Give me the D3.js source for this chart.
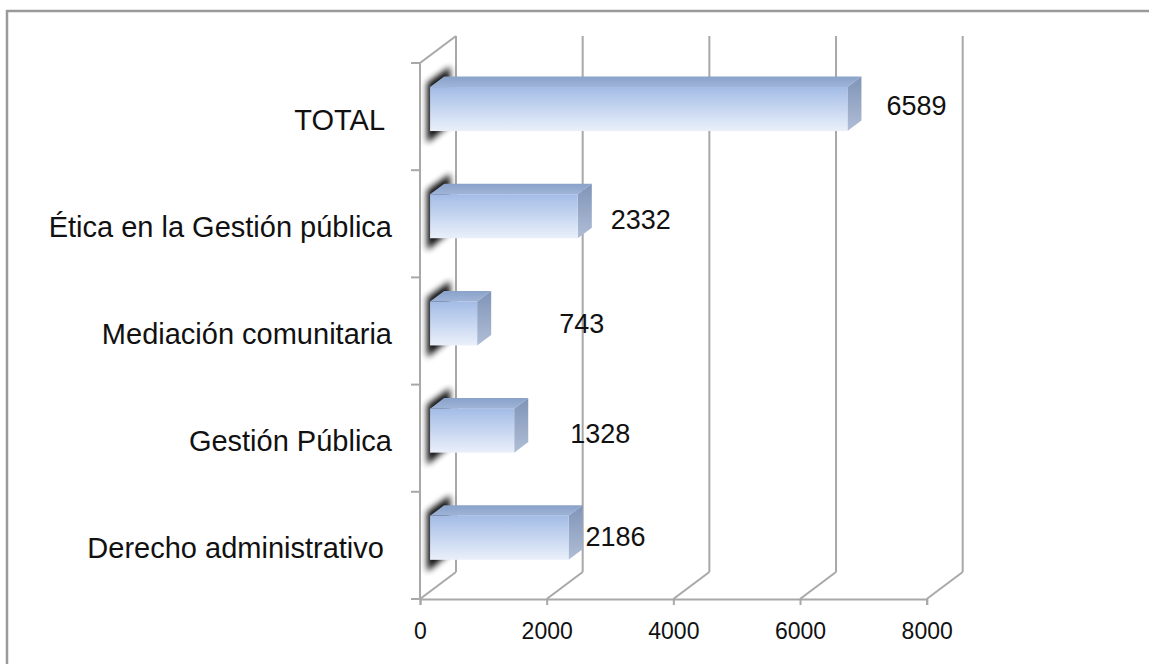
<!DOCTYPE html>
<html><head><meta charset="utf-8">
<script src="https://cdn.jsdelivr.net/npm/d3@7"></script>
<style>body{margin:0;background:#fff} text{font-family:"Liberation Sans",Arial,sans-serif;white-space:pre}</style>
</head><body><svg id="c" width="1149" height="664"></svg>
<script>
// ---- data ----
const categories = ["TOTAL ", "Ética en la Gestión pública", "Mediación comunitaria", "Gestión Pública", "Derecho administrativo "];
const values = [6589, 2332, 743, 1328, 2186];
const xTicks = [0, 2000, 4000, 6000, 8000];

// ---- layout ----
const svg = d3.select("#c");
const yTop = 63, yBot = 599;
const DX = 36, DY = -27;          // depth offset of the back wall
const z0 = 0.28, z1 = 0.67, halfH = 22;
const labelDx = [25, 19, 68, 42, 3];
const labelDy = [-11, -3.5, -7, -4, -8.5];

const x = d3.scaleLinear().domain([0, 8000]).range([420, 926.7]);
const y = d3.scaleBand().domain(categories).range([yTop, yBot]);
const P = (v, yy, z) => [x(v) + z * DX, yy + z * DY];

const defs = svg.append("defs");
function vgrad(id, c1, c2) {
  const g = defs.append("linearGradient").attr("id", id).attr("x1", 0).attr("y1", 0).attr("x2", 0).attr("y2", 1);
  g.append("stop").attr("offset", "0%").attr("stop-color", c1);
  g.append("stop").attr("offset", "100%").attr("stop-color", c2);
}
vgrad("gFront", "#a3bce6", "#eaf0fa");
vgrad("gTop", "#8aa2c9", "#9fb4d8");
vgrad("gSide", "#7f94b8", "#b0bed6");
const f = defs.append("filter").attr("id", "blur").attr("x", "-50%").attr("y", "-50%").attr("width", "200%").attr("height", "200%");
f.append("feGaussianBlur").attr("stdDeviation", 3);

// frame
svg.append("rect").attr("x", 7).attr("y", 11).attr("width", 1300).attr("height", 800)
  .attr("fill", "#fff").attr("stroke", "#9a9a9a").attr("stroke-width", 2.5);

const grid = svg.append("g").attr("stroke", "#a8a8a8").attr("stroke-width", 2).attr("fill", "none");
const line = d3.line();
// back wall verticals and floor diagonals
xTicks.forEach(t => {
  grid.append("path").attr("d", line([P(t, yBot, 1), P(t, yTop, 1)]));
  grid.append("path").attr("d", line([P(t, yBot, 0), P(t, yBot, 1)]));
});
// left wall
grid.append("path").attr("d", line([P(0, yBot, 0), P(0, yTop, 0), P(0, yTop, 1)]));
// category ticks
const bounds = categories.map(c => y(c)).concat([yBot]);
bounds.forEach(b => grid.append("path").attr("d", line([[x(0) - 9, b], [x(0), b]])));

// front x axis
const axisG = svg.append("g").attr("transform", `translate(0,${yBot})`)
  .call(d3.axisBottom(x).tickValues(xTicks).tickSize(6).tickPadding(18).tickFormat(d3.format("d")));
axisG.select(".domain").attr("stroke", "#a8a8a8").attr("stroke-width", 2);
axisG.selectAll(".tick line").attr("stroke", "#a8a8a8").attr("stroke-width", 2);
axisG.selectAll(".tick text").attr("font-size", 23).attr("fill", "#111")
  .attr("font-family", "'Liberation Sans',Arial,sans-serif");

// bars
const poly = pts => "M" + pts.map(p => p.join(",")).join("L") + "Z";
categories.forEach((cat, i) => {
  const v = values[i];
  const c = y(cat) + y.bandwidth() / 2;
  const t = c - halfH, b = c + halfH;
  const g = svg.append("g");
  // shadow on the wall
  g.append("path").attr("d", poly([
      [x(0) + z0 * DX - 3, t + z0 * DY - 4],
      [x(0) + z1 * DX + 6, t + z1 * DY - 10],
      [x(0) + z1 * DX + 6, b + z1 * DY + 4],
      [x(0) + z0 * DX - 3, b + z0 * DY + 12]]))
    .attr("fill", "#000").attr("opacity", 0.95).attr("filter", "url(#blur)");
  // top face
  g.append("path").attr("d", poly([P(0, t, z0), P(v, t, z0), P(v, t, z1), P(0, t, z1)]))
    .attr("fill", "url(#gTop)");
  // side face
  g.append("path").attr("d", poly([P(v, t, z0), P(v, t, z1), P(v, b, z1), P(v, b, z0)]))
    .attr("fill", "url(#gSide)");
  // front face
  const [fx0, fy0] = P(0, t, z0), [fx1] = P(v, t, z0);
  g.append("rect").attr("x", fx0).attr("y", fy0).attr("width", fx1 - fx0).attr("height", 2 * halfH)
    .attr("fill", "url(#gFront)");
  // value label
  svg.append("text").attr("x", x(v) + z1 * DX + labelDx[i]).attr("y", c + labelDy[i])
    .attr("dominant-baseline", "central").attr("font-size", 27).attr("fill", "#111").text(v);
  // category label
  svg.append("text").attr("x", 392).attr("y", c + 3).attr("text-anchor", "end")
    .attr("dominant-baseline", "central").attr("font-size", 29).attr("fill", "#111").text(cat);
});
</script></body></html>
